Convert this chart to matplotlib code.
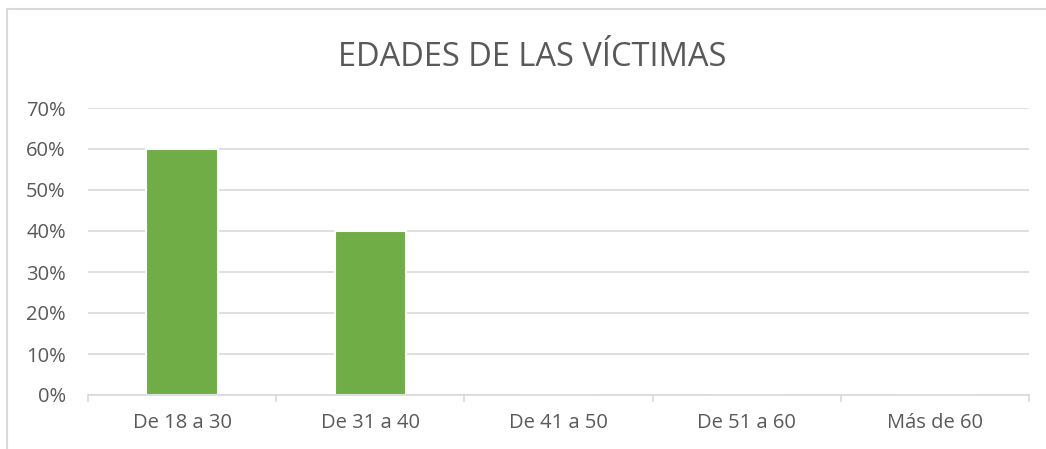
import matplotlib.pyplot as plt
from matplotlib.patches import Rectangle
from matplotlib.ticker import FuncFormatter, MultipleLocator

# datos
categorias = ['De 18 a 30', 'De 31 a 40', 'De 41 a 50', 'De 51 a 60', 'Más de 60']
porcentajes = [0.60, 0.40, 0.0, 0.0, 0.0]

plt.rcParams['font.family'] = ['Open Sans', 'DejaVu Sans']
texto = '#595959'
rejilla = '#d9d9d9'

fig = plt.figure(figsize=(10.46, 4.49), dpi=100)
fig.patch.set_facecolor('white')

# borde del gráfico (estilo Excel), recortado a la derecha y abajo
fig.add_artist(Rectangle((7 / 1046, -0.05), 1.1, (449 - 9) / 449 + 0.05,
                         transform=fig.transFigure, fill=False,
                         edgecolor=rejilla, linewidth=1.5))

ax = fig.add_axes([88 / 1046, (449 - 395) / 449, (1029 - 88) / 1046, (395 - 108) / 449])

x = range(len(categorias))
ax.bar(x, porcentajes, width=0.38, color='#70ad47', edgecolor='white',
       linewidth=1.5, zorder=2)

ax.set_xlim(-0.5, len(categorias) - 0.5)
ax.set_ylim(0, 0.7)
ax.yaxis.set_major_locator(MultipleLocator(0.1))
ax.yaxis.set_major_formatter(FuncFormatter(lambda v, p: f'{v * 100:.0f}%'))
ax.grid(axis='y', color=rejilla, linewidth=1.2, zorder=0)
ax.set_axisbelow(True)

ax.set_xticks(list(x))
ax.set_xticklabels(categorias)
ax.set_xticks([i - 0.5 for i in range(len(categorias) + 1)], minor=True)
ax.tick_params(axis='x', which='major', length=0, pad=13, labelsize=14.5, labelcolor=texto)
ax.tick_params(axis='x', which='minor', length=5, width=1.2, color=rejilla, direction='out')
ax.tick_params(axis='y', length=0, pad=16, labelsize=14.5, labelcolor=texto)

for lado in ['top', 'right', 'left']:
    ax.spines[lado].set_visible(False)
ax.spines['bottom'].set_color(rejilla)
ax.spines['bottom'].set_linewidth(1.2)
ax.spines['bottom'].set_zorder(3)

fig.text(532 / 1046, (449 - 58) / 449, 'EDADES DE LAS VÍCTIMAS', ha='center', va='center',
         fontsize=23.5, color=texto)

plt.savefig('out.png', dpi=100)
